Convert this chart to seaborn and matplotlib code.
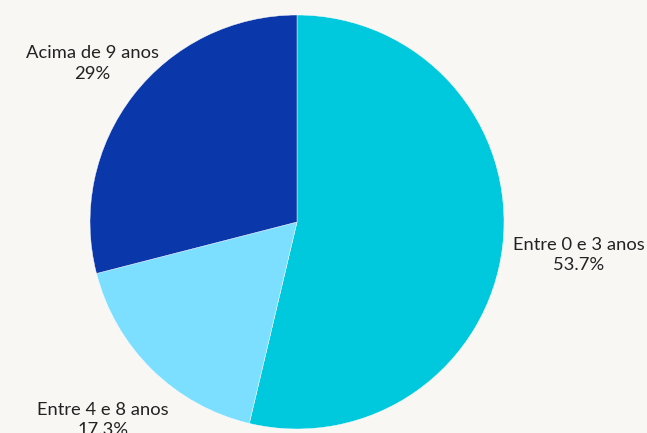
import numpy as np
import matplotlib.pyplot as plt
import seaborn as sns

# dados do gráfico
categorias = ["Entre 0 e 3 anos", "Entre 4 e 8 anos", "Acima de 9 anos"]
percentuais = [53.7, 17.3, 29.0]
rotulos_pct = ["53.7%", "17.3%", "29%"]
cores = ["#00C9DD", "#7DDFFF", "#0A38AA"]
dist_rotulo = [1.37, 1.34, 1.25]

sns.set_theme(style="white")
plt.rcParams['font.family'] = ['Lato', 'DejaVu Sans']

fundo = "#F9F7F4"
fig = plt.figure(figsize=(6.47, 4.33), dpi=100, facecolor=fundo)
ax = fig.add_axes([90 / 647, 4 / 433, 414 / 647, 414 / 433])
ax.set_facecolor(fundo)

wedges, _ = ax.pie(percentuais, colors=cores, startangle=90, counterclock=False,
                   radius=1, wedgeprops={'edgecolor': 'white', 'linewidth': 0.3})

for w, cat, pct, d in zip(wedges, categorias, rotulos_pct, dist_rotulo):
    ang = np.deg2rad((w.theta1 + w.theta2) / 2)
    ax.text(d * np.cos(ang), d * np.sin(ang), f"{cat}\n{pct}",
            ha='center', va='center', fontsize=13.2, color='#222222',
            linespacing=1.35)

ax.set_xlim(-1, 1)
ax.set_ylim(-1, 1)
ax.set_aspect('equal')
ax.axis('off')

fig.savefig("out.png", dpi=100, facecolor=fundo)
plt.close()
